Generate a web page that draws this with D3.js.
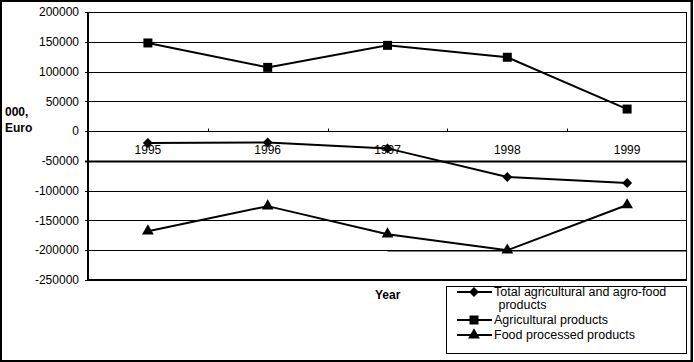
<!DOCTYPE html>
<html>
<head>
<meta charset="utf-8">
<script src="https://cdn.jsdelivr.net/npm/d3@7"></script>
<style>
  body { margin: 0; background: #fff; }
  svg { display: block; font-family: "Liberation Sans", Arial, sans-serif; }
</style>
</head>
<body>
<script>
// data (000 Euro)
var years = ["1995", "1996", "1997", "1998", "1999"];
var totalAgro = [-20000, -19000, -29000, -77000, -87000];
var agricultural = [148000, 107000, 144000, 124000, 37000];
var foodProcessed = [-168000, -126000, -173000, -200000, -124000];
var yTicks = [200000, 150000, 100000, 50000, 0, -50000, -100000, -150000, -200000, -250000];
var seriesNames = ["Total agricultural and agro-food products", "Agricultural products", "Food processed products"];

var width = 694, height = 362;
var margin = {top: 12, right: 7, bottom: 82, left: 88};
var w = width - margin.left - margin.right;
var h = height - margin.top - margin.bottom;

var svg = d3.select("body").append("svg")
    .attr("width", width)
    .attr("height", height);

// outer frame
svg.append("rect")
    .attr("x", 1).attr("y", 1)
    .attr("width", width - 3).attr("height", height - 2)
    .attr("fill", "none").attr("stroke", "#000").attr("stroke-width", 2);
svg.append("line")
    .attr("x1", 691.5).attr("x2", 691.5).attr("y1", 0).attr("y2", height)
    .attr("stroke", "#000").attr("stroke-width", 2);

var g = svg.append("g").attr("transform", "translate(" + margin.left + "," + margin.top + ")");

var x = d3.scaleBand().domain(years).range([0, w]);
var y = d3.scaleLinear().domain([-250000, 200000]).range([h, 0]);

// gridlines
g.selectAll(".grid")
    .data(yTicks)
    .enter().append("line")
    .attr("class", "grid")
    .attr("x1", -3).attr("x2", w)
    .attr("y1", function(d) { return Math.round(y(d)) + 0.5; })
    .attr("y2", function(d) { return Math.round(y(d)) + 0.5; })
    .attr("stroke", "#000")
    .attr("stroke-width", function(d) { return d === -50000 ? 2 : 1; });

// odd heavier stroke on -200000 from 1997 on
g.append("line")
    .attr("x1", x("1997") + x.bandwidth() / 2).attr("x2", w)
    .attr("y1", Math.round(y(-200000)) + 1).attr("y2", Math.round(y(-200000)) + 1)
    .attr("stroke", "#000").attr("stroke-width", 1);

// plot border
g.append("rect")
    .attr("x", 0.5).attr("y", 0.5)
    .attr("width", w - 1).attr("height", h)
    .attr("fill", "none").attr("stroke", "#000").attr("stroke-width", 1);
g.append("line")
    .attr("x1", 0).attr("x2", 0).attr("y1", 0).attr("y2", h + 1)
    .attr("stroke", "#000").attr("stroke-width", 2);
g.append("line")
    .attr("x1", 0).attr("x2", w).attr("y1", h).attr("y2", h)
    .attr("stroke", "#000").attr("stroke-width", 2);

// y tick labels
g.selectAll(".ylab")
    .data(yTicks)
    .enter().append("text")
    .attr("x", -9)
    .attr("y", function(d) { return y(d); })
    .attr("dy", "0.35em")
    .attr("text-anchor", "end")
    .attr("font-size", "12px")
    .text(function(d) { return d; });

// category ticks on the zero line
var zeroY = Math.round(y(0)) + 0.5;
g.selectAll(".xtick")
    .data(years.slice(1))
    .enter().append("line")
    .attr("x1", function(d) { return Math.round(x(d)) + 0.5; })
    .attr("x2", function(d) { return Math.round(x(d)) + 0.5; })
    .attr("y1", zeroY).attr("y2", zeroY - 3)
    .attr("stroke", "#000");

g.selectAll(".xlab")
    .data(years)
    .enter().append("text")
    .attr("x", function(d) { return x(d) + x.bandwidth() / 2; })
    .attr("y", zeroY + 22)
    .attr("text-anchor", "middle")
    .attr("font-size", "12px")
    .text(function(d) { return d; });

// series
var line = d3.line()
    .x(function(d, i) { return x(years[i]) + x.bandwidth() / 2; })
    .y(function(d) { return y(d); });

var symbols = [
  d3.symbol().type(d3.symbolSquare).size(50),
  d3.symbol().type(d3.symbolSquare).size(81),
  d3.symbol().type(d3.symbolTriangle).size(60)
];
var rotations = [45, 0, 0];
var allSeries = [totalAgro, agricultural, foodProcessed];

allSeries.forEach(function(s, k) {
  g.append("path")
      .attr("d", line(s))
      .attr("fill", "none")
      .attr("stroke", "#000")
      .attr("stroke-width", 2);
  g.selectAll(".m" + k)
      .data(s)
      .enter().append("path")
      .attr("transform", function(d, i) {
        return "translate(" + (x(years[i]) + x.bandwidth() / 2) + "," + y(d) + ") rotate(" + rotations[k] + ")";
      })
      .attr("d", symbols[k])
      .attr("fill", "#000");
});

// axis titles
svg.append("text")
    .attr("x", 5).attr("y", 116)
    .attr("font-size", "12px").attr("font-weight", "bold")
    .text("000,");
svg.append("text")
    .attr("x", 5).attr("y", 132)
    .attr("font-size", "12px").attr("font-weight", "bold")
    .text("Euro");
svg.append("text")
    .attr("x", 375).attr("y", 299)
    .attr("font-size", "12px").attr("font-weight", "bold")
    .text("Year");

// legend
var lg = svg.append("g");
lg.append("rect")
    .attr("x", 446.5).attr("y", 286.5)
    .attr("width", 240).attr("height", 67)
    .attr("fill", "#fff").attr("stroke", "#000");

var legendRows = [
  {y: 292, lines: ["Total agricultural and agro-food", " products"]},
  {y: 320, lines: ["Agricultural products"]},
  {y: 335, lines: ["Food processed products"]}
];
legendRows.forEach(function(r, k) {
  lg.append("line")
      .attr("x1", 457).attr("x2", 492)
      .attr("y1", r.y).attr("y2", r.y)
      .attr("stroke", "#000").attr("stroke-width", 2);
  lg.append("path")
      .attr("transform", "translate(474," + r.y + ") rotate(" + rotations[k] + ")")
      .attr("d", symbols[k])
      .attr("fill", "#000");
  r.lines.forEach(function(t, j) {
    lg.append("text")
        .attr("x", j === 0 ? 494 : 495)
        .attr("y", r.y + 4 + j * 13)
        .attr("font-size", "12.5px")
        .attr("xml:space", "preserve")
        .text(t);
  });
});
</script>
</body>
</html>
